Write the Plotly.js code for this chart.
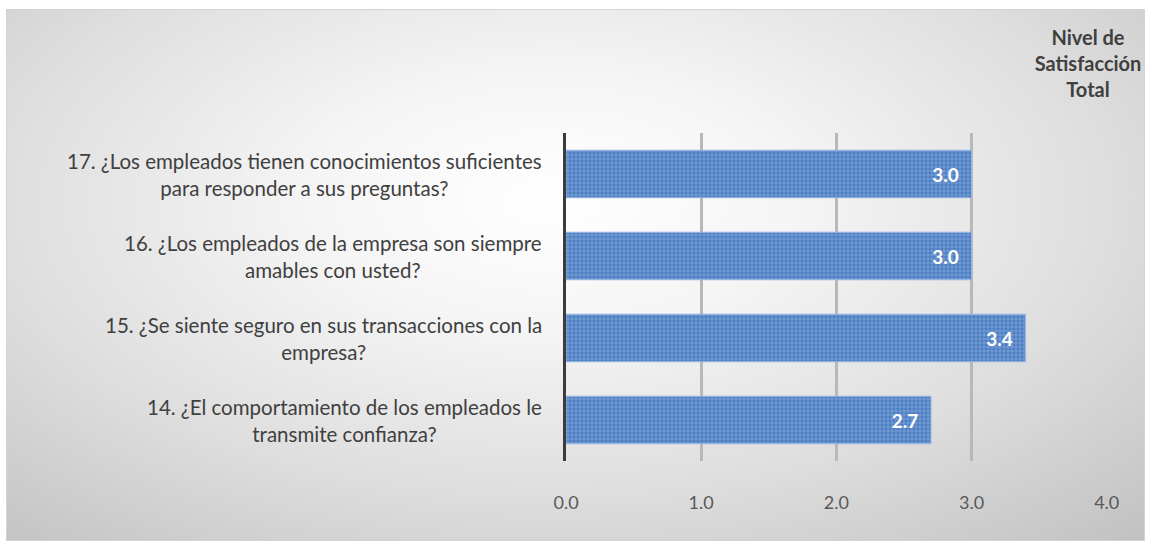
<!DOCTYPE html>
<html>
<head>
<meta charset="utf-8">
<script src="https://cdn.plot.ly/plotly-3.0.1.min.js"></script>
<style>
  html, body { margin: 0; padding: 0; background: #ffffff; }
  #frame {
    position: absolute; left: 6px; top: 9px;
    width: 1137px; height: 530px;
    border: 1px solid #d4d4d4;
    background: radial-gradient(ellipse 75% 85% at 48% 36%, #ffffff 0%, #f5f5f5 28%, #dedede 65%, #c3c3c3 100%);
  }
  #chart { width: 1137px; height: 530px; }
</style>
</head>
<body>
<div id="frame"><div id="chart"></div></div>
<script>
// Survey questions (bottom to top) and their average satisfaction score
const questions = [
  "14. ¿El comportamiento de los empleados le<br>transmite confianza?",
  "15. ¿Se siente seguro en sus transacciones con la<br>empresa?",
  "16. ¿Los empleados de la empresa son siempre<br>amables con usted?",
  "17. ¿Los empleados tienen conocimientos suficientes<br>para responder a sus preguntas?"
];
const scores = [2.7, 3.4, 3.0, 3.0];
const tickValues = [0, 1, 2, 3, 4];
const tickLabels = ["0.0", "1.0", "2.0", "3.0", "4.0"];
const chartTitle = "Nivel de<br>Satisfacción<br>Total";

const FONT = "Lato, 'Open Sans', sans-serif";

const trace = {
  type: "bar",
  orientation: "h",
  y: questions,
  x: scores,
  width: 0.58,
  marker: {
    color: "#4c7ec2",
    line: { color: "#9ab8e4", width: 1 },
    pattern: { shape: "+", bgcolor: "#4c7ec2", fgcolor: "#84a7db", size: 4, solidity: 0.33 }
  },
  // value label sits inside the bar end, with a little breathing room
  texttemplate: "<b>%{x:.1f}</b>\u00a0\u00a0",
  textposition: "inside",
  insidetextanchor: "end",
  textangle: 0,
  textfont: { family: FONT, size: 19, color: "#ffffff" },
  hoverinfo: "skip"
};

const annotations = questions.map(q => ({
  xref: "paper", yref: "y",
  x: 0, y: q,
  xshift: -22,
  xanchor: "right", yanchor: "middle",
  align: "center",
  text: q,
  showarrow: false,
  font: { family: FONT, size: 20.5, color: "#404040" }
}));

const layout = {
  width: 1137, height: 530,
  margin: { l: 559, r: 37, t: 123, b: 79, pad: 0 },
  paper_bgcolor: "rgba(0,0,0,0)",
  plot_bgcolor: "rgba(0,0,0,0)",
  showlegend: false,
  title: {
    text: chartTitle,
    x: 1081 / 1137, xanchor: "center",
    y: 1 - 35 / 530, yanchor: "middle",
    font: { family: FONT, size: 20, color: "#404040", weight: "bold" }
  },
  xaxis: {
    range: [0, 4.002],
    tickvals: tickValues,
    ticktext: tickLabels,
    showgrid: true,
    gridcolor: "#b8b8b8",
    gridwidth: 3,
    zeroline: false,
    showline: false,
    ticks: "outside",
    ticklen: 25,
    tickcolor: "rgba(0,0,0,0)",
    tickfont: { family: FONT, size: 18, color: "#595959" },
    fixedrange: true
  },
  yaxis: {
    type: "category",
    categoryorder: "array",
    categoryarray: questions,
    showticklabels: false,
    showgrid: false,
    zeroline: false,
    showline: true,
    linecolor: "#3c3c3c",
    linewidth: 3,
    fixedrange: true
  },
  bargap: 0.42,
  annotations: annotations
};

Plotly.newPlot("chart", [trace], layout, { displayModeBar: false, staticPlot: true });
</script>
</body>
</html>
